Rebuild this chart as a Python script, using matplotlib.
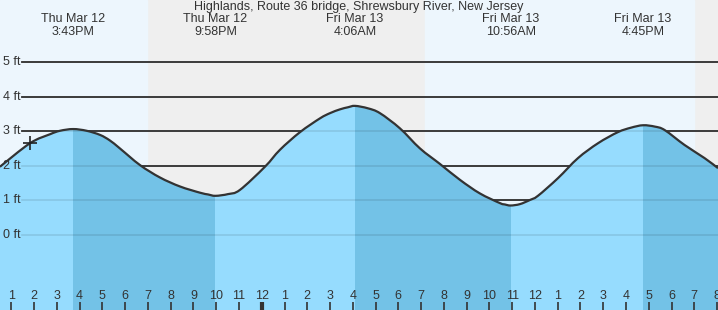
import matplotlib.pyplot as plt
import numpy as np
from matplotlib.path import Path
from matplotlib.patches import PathPatch, Rectangle

plt.rcParams['font.family'] = ['Liberation Sans', 'DejaVu Sans']

title = "Highlands, Route 36 bridge, Shrewsbury River, New Jersey"

# hours counted from Thu Mar 12 00:00, water level in ft
hours = [12.50, 13.82, 14.70, 15.14, 15.717, 16.31, 16.90, 17.33, 17.77, 18.65,
         19.53, 20.41, 21.29, 21.64, 21.967, 22.52, 23.04, 24.14, 24.80, 25.68,
         26.56, 27.00, 27.44, 27.79, 28.10, 28.66, 29.19, 30.07, 30.95, 31.83,
         32.71, 33.58, 34.46, 34.68, 34.933, 35.34, 35.78, 36.13, 37.01, 37.89,
         38.77, 39.64, 40.22, 40.75, 41.27, 41.70, 42.57, 43.45, 44.04]
feet = [1.97, 2.65, 2.91, 3.01, 3.06, 3.01, 2.89, 2.73, 2.50, 2.02,
        1.66, 1.40, 1.22, 1.17, 1.13, 1.18, 1.30, 1.97, 2.46, 2.97,
        3.37, 3.52, 3.63, 3.69, 3.73, 3.66, 3.52, 3.08, 2.50, 2.05,
        1.59, 1.20, 0.92, 0.88, 0.85, 0.89, 1.01, 1.13, 1.64, 2.22,
        2.65, 2.97, 3.10, 3.17, 3.13, 3.03, 2.60, 2.22, 1.93]

# high / low events
event_hours = [15.717, 21.967, 28.10, 34.933, 40.75]
event_days = ["Thu Mar 12", "Thu Mar 12", "Fri Mar 13", "Fri Mar 13", "Fri Mar 13"]
event_times = ["3:43PM", "9:58PM", "4:06AM", "10:56AM", "4:45PM"]

# daylight periods
day_starts = [12.50, 31.17]
day_ends = [18.96, 42.98]

now_hour, now_ft = 13.82, 2.65

x0, x1 = 12.504, 44.04
y0, y1 = -2.17, 6.79


def smooth_path(xs, ys):
    # catmull-rom through the points, as cubic bezier pieces
    p = np.column_stack([xs, ys])
    pp = np.vstack([p[0], p, p[-1]])
    verts = [p[0]]
    codes = [Path.MOVETO]
    for i in range(1, len(pp) - 2):
        c1 = pp[i] + (pp[i + 1] - pp[i - 1]) / 6
        c2 = pp[i + 1] - (pp[i + 2] - pp[i]) / 6
        verts += [c1, c2, pp[i + 1]]
        codes += [Path.CURVE4] * 3
    return verts, codes


fig = plt.figure(figsize=(7.18, 3.10), dpi=100)
ax = fig.add_axes([0, 0, 1, 1])
ax.set_xlim(x0, x1)
ax.set_ylim(y0, y1)
ax.axis('off')

# night background, then day bands
ax.axvspan(x0, x1, color='#efefef', zorder=0)
for a, b in zip(day_starts, day_ends):
    ax.axvspan(a, b, color='#edf6fd', zorder=0)

# ft grid lines (dark above background, faint over water)
for ft in range(0, 6):
    ax.axhline(ft, xmin=22 / 718, xmax=1, color='#333333', lw=1.3, zorder=1)
    ax.axhline(ft, xmin=22 / 718, xmax=1, color='black', lw=1.2, alpha=0.1, zorder=3)
    ax.text(3 / 718, ft, f"{ft} ft", transform=ax.get_yaxis_transform(),
            ha='left', va='center', fontsize=9, color='#333333', zorder=4)

# water: rising light, falling dark
verts, codes = smooth_path(hours, feet)
fill_verts = verts + [(hours[-1], y0), (hours[0], y0), verts[0]]
fill_codes = codes + [Path.LINETO, Path.LINETO, Path.CLOSEPOLY]
fill_path = Path(fill_verts, fill_codes)

ax.add_patch(PathPatch(fill_path, facecolor='#96dcfe', lw=0, zorder=2))
bounds = [x0 - 1] + event_hours + [x1 + 1]
for i in range(1, len(bounds) - 1, 2):
    dark = PathPatch(fill_path, facecolor='#73c2e7', lw=0, zorder=2)
    ax.add_patch(dark)
    clip = Rectangle((bounds[i], y0), bounds[i + 1] - bounds[i], y1 - y0,
                     transform=ax.transData)
    dark.set_clip_path(clip)

ax.add_patch(PathPatch(Path(verts, codes), facecolor='none', edgecolor='#333333',
                       lw=1.6, zorder=4))

ax.plot(now_hour, now_ft, marker='+', ms=10, mew=1.2, color='#222222', zorder=5)

# event labels
for eh, d, tm in zip(event_hours, event_days, event_times):
    ax.text(eh, 1 - 19 / 310, d, transform=ax.get_xaxis_transform(),
            ha='center', va='center', fontsize=9, color='#333333')
    ax.text(eh, 1 - 32 / 310, tm, transform=ax.get_xaxis_transform(),
            ha='center', va='center', fontsize=9, color='#333333')

ax.text(0.5, 1 - 7 / 310, title, transform=ax.transAxes, ha='center',
        va='center', fontsize=9, color='#333333')

# hour ticks along the bottom
for hr in range(13, 45):
    lab = (hr - 1) % 12 + 1
    ax.text(hr, 1 - 296 / 310, str(lab), transform=ax.get_xaxis_transform(),
            ha='center', va='center', fontsize=9, color='#333333', zorder=5)
    ax.vlines(hr, 0, 8 / 310, transform=ax.get_xaxis_transform(),
              color='#333333', lw=3 if hr == 24 else 1.2, zorder=5)

fig.savefig('out.png', dpi=100)
